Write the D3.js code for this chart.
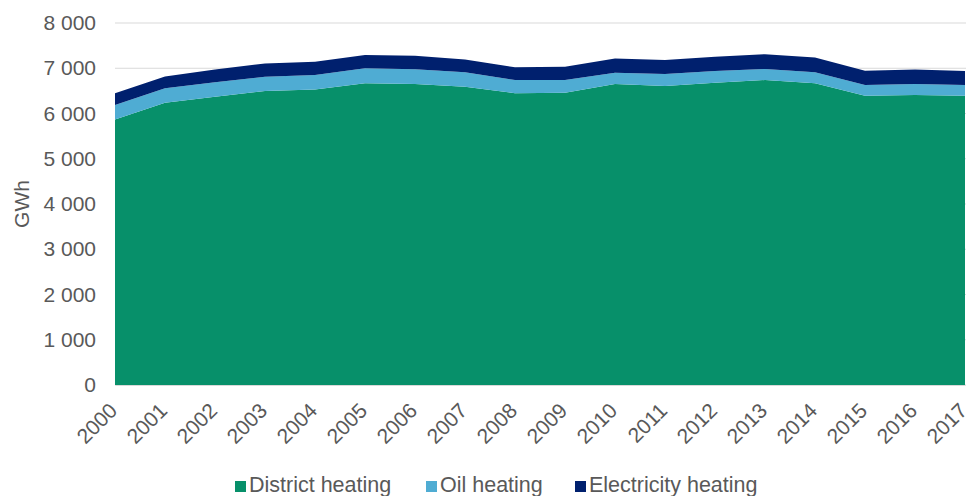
<!DOCTYPE html>
<html><head><meta charset="utf-8">
<script src="https://cdn.jsdelivr.net/npm/d3@7"></script>
<style>html,body{margin:0;padding:0;background:#fff;overflow:hidden}</style>
</head><body>
<svg id="c" width="966" height="496"></svg>
<script>
const years = [2000,2001,2002,2003,2004,2005,2006,2007,2008,2009,2010,2011,2012,2013,2014,2015,2016,2017];
const district = [5870,6240,6370,6500,6530,6670,6650,6590,6450,6460,6650,6610,6680,6740,6670,6390,6410,6390];
const oil = [320,320,320,310,320,330,330,320,290,280,250,265,260,245,240,240,240,240];
const electricity = [260,255,285,295,295,295,295,285,280,295,315,310,315,325,330,315,325,310];
const seriesNames = ["District heating","Oil heating","Electricity heating"];
const colors = ["#07906a","#4facd3","#00206e"];
const yTicks = [0,1000,2000,3000,4000,5000,6000,7000,8000];

const rows = years.map((y,i)=>({year:y, "District heating":district[i], "Oil heating":oil[i], "Electricity heating":electricity[i]}));
const stack = d3.stack().keys(seriesNames)(rows);

const svg = d3.select("#c");
const x = d3.scaleLinear().domain([2000,2017]).range([115,965]);
const y = d3.scaleLinear().domain([0,8000]).range([385,23]);
const fmt = v => d3.format(",")(v).replace(/,/g," ");
const font = "'Liberation Sans', Arial, sans-serif";
const txt = "#595959";

// gridlines
svg.append("g").selectAll("line").data(yTicks).join("line")
  .attr("x1",115).attr("x2",966).attr("y1",d=>y(d)).attr("y2",d=>y(d))
  .attr("stroke","#d9d9d9").attr("stroke-width",1);

const area = d3.area().x(d=>x(d.data.year)).y0(d=>y(d[0])).y1(d=>y(d[1]));
svg.append("g").selectAll("path").data(stack).join("path")
  .attr("d",area).attr("fill",(d,i)=>colors[i]);

// y axis
const ya = svg.append("g").attr("transform","translate(96,0)")
  .call(d3.axisLeft(y).tickValues(yTicks).tickFormat(fmt).tickSize(0).tickPadding(0));
ya.select(".domain").remove();
ya.selectAll("text").style("font-family",font).style("font-size","21px").attr("fill",txt);

// x axis
const xa = svg.append("g").attr("transform","translate(0,385)")
  .call(d3.axisBottom(x).tickValues(years).tickFormat(d3.format("d")).tickSize(0));
xa.select(".domain").attr("stroke","#d9d9d9");
xa.selectAll("text").style("font-family",font).style("font-size","21px").attr("fill",txt)
  .attr("text-anchor","end").attr("dy",null).attr("y",0)
  .attr("transform","translate(3,27) rotate(-45)");

// y title
svg.append("text").attr("transform","translate(29,204) rotate(-90)")
  .attr("text-anchor","middle").style("font-family",font).style("font-size","21px")
  .attr("fill",txt).text("GWh");

// legend
const legX = [235,426,575];
const lg = svg.append("g").selectAll("g").data(seriesNames).join("g")
  .attr("transform",(d,i)=>`translate(${legX[i]},0)`);
lg.append("rect").attr("x",0).attr("y",481).attr("width",11).attr("height",11).attr("fill",(d,i)=>colors[i]);
lg.append("text").attr("x",14).attr("y",492).style("font-family",font).style("font-size","21.5px")
  .attr("fill",txt).text(d=>d);
</script>
</body></html>
